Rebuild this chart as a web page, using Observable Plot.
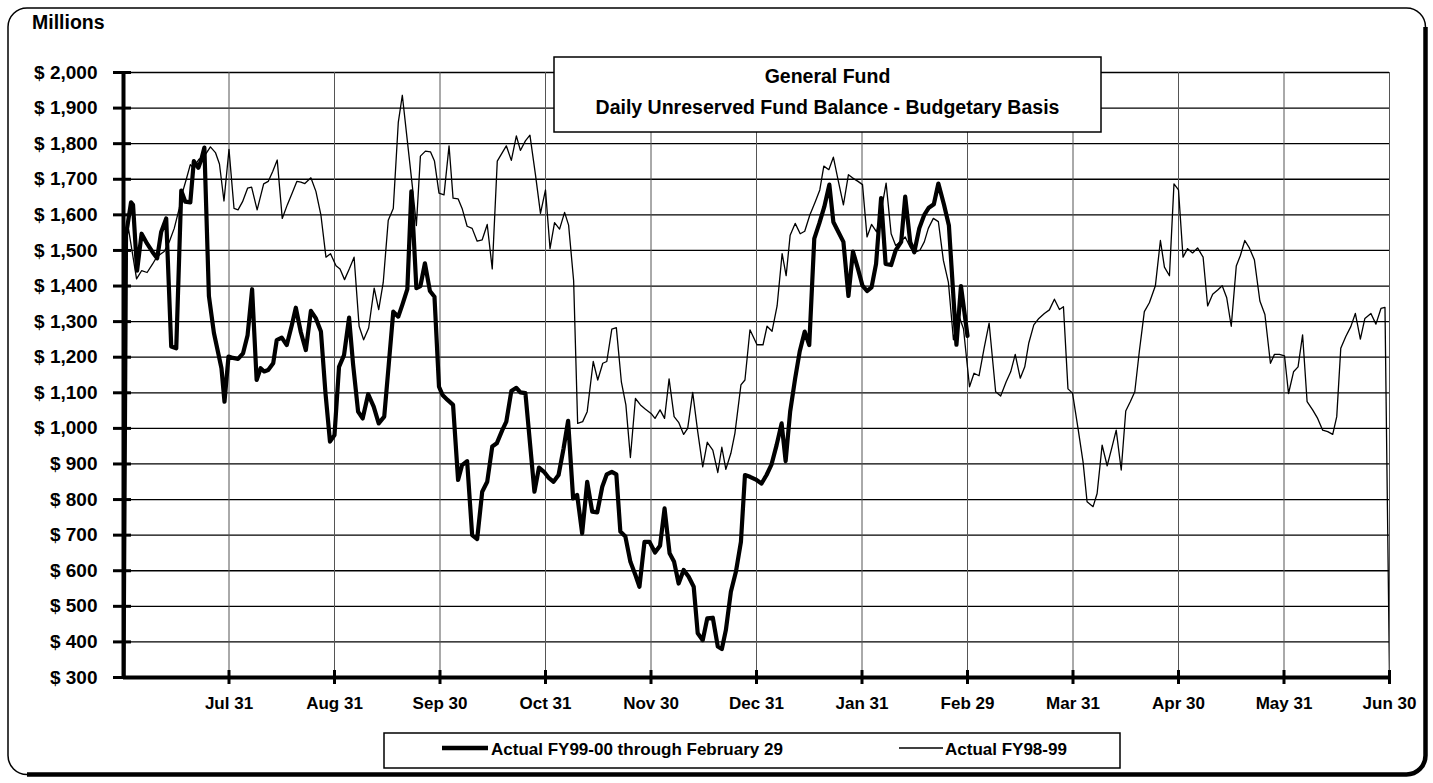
<!DOCTYPE html>
<html>
<head>
<meta charset="utf-8">
<script src="https://cdn.jsdelivr.net/npm/d3@7"></script>
<script src="https://cdn.jsdelivr.net/npm/@observablehq/plot@0.6"></script>
<style>
  body { margin: 0; background: #fff; }
  #wrap { position: relative; width: 1433px; height: 783px; overflow: hidden; }
  #overlay { position: absolute; left: 0; top: 0; pointer-events: none; }
  #chart svg { display: block; }
</style>
</head>
<body>
<div id="wrap">
  <div id="chart"></div>
  <svg id="overlay" width="1433" height="783" font-family="'Liberation Sans', Arial, sans-serif" font-weight="bold">
    <rect x="8" y="8" width="1417.5" height="766.5" rx="19" ry="19" fill="none" stroke="#000" stroke-width="1.5"/>
    <path d="M1425.5,27 L1425.5,755.5 A19,19 0 0 1 1406.5,774.5 L27,774.5" fill="none" stroke="#000" stroke-width="4.5"/>
    <text x="32" y="29" font-size="19.5">Millions</text>
    <rect x="554" y="57" width="547" height="75" fill="#fff" stroke="#000" stroke-width="1.5"/>
    <text x="827.5" y="83" font-size="19.5" text-anchor="middle">General Fund</text>
    <text x="827.5" y="114" font-size="19.5" text-anchor="middle">Daily Unreserved Fund Balance - Budgetary Basis</text>
    <rect x="384" y="733" width="736" height="35" fill="#fff" stroke="#000" stroke-width="1.5"/>
    <line x1="442" y1="748" x2="488" y2="748" stroke="#000" stroke-width="4.5"/>
    <text x="491" y="755" font-size="17">Actual FY99-00 through February 29</text>
    <line x1="899" y1="748" x2="943" y2="748" stroke="#000" stroke-width="1.3"/>
    <text x="945" y="755" font-size="17">Actual FY98-99</text>
  </svg>
</div>
<script>
// Month-end tick positions (business-day index) and their labels
const monthEnds = [21, 42, 63, 84, 105, 126, 147, 168, 189, 210, 231, 252];
const monthLabels = ["Jul 31","Aug 31","Sep 30","Oct 31","Nov 30","Dec 31","Jan 31","Feb 29","Mar 31","Apr 30","May 31","Jun 30"];
const yTicks = [300,400,500,600,700,800,900,1000,1100,1200,1300,1400,1500,1600,1700,1800,1900,2000];

// Actual FY98-99 daily balance, [business day, $ millions]
const fy9899 = [[0,1500],[1,1560],[2.6,1420],[3.6,1443],[4.7,1438],[5.8,1462],[6.6,1481],[7.4,1490],[8.1,1497],[9.1,1524],[10.1,1562],[11.1,1618],[11.8,1666],[12.5,1700],[13.3,1741],[13.9,1732],[15,1756],[16.1,1765],[17.3,1791],[18.3,1775],[19.1,1743],[20,1639],[21,1784],[22,1618],[22.8,1614],[23.7,1637],[24.7,1675],[25.5,1678],[26.6,1614],[27.9,1687],[28.8,1694],[29.7,1722],[30.6,1754],[31.6,1590],[32.6,1628],[33.6,1662],[34.5,1694],[35.3,1692],[36.1,1688],[37.3,1704],[38.3,1666],[39.3,1599],[40.3,1481],[41.2,1491],[42.3,1457],[43.1,1448],[44,1418],[45,1450],[45.9,1481],[46.9,1287],[47.8,1249],[48.8,1282],[49.9,1394],[50.8,1334],[51.7,1410],[52.7,1585],[53.7,1618],[54.7,1860],[55.5,1936],[56.5,1808],[57.5,1680],[58.3,1570],[59.1,1765],[60.1,1779],[61.1,1777],[61.9,1751],[62.8,1661],[63.8,1656],[64.8,1794],[65.6,1647],[66.6,1645],[67.4,1618],[68.4,1568],[69.4,1562],[70.4,1526],[71.4,1530],[72.4,1573],[73.4,1448],[74.4,1751],[75.4,1775],[76.2,1794],[77.2,1753],[78.2,1822],[79,1781],[80,1808],[80.9,1824],[82,1713],[83,1604],[84,1670],[84.9,1505],[85.8,1578],[86.8,1560],[87.8,1607],[88.6,1571],[89.6,1415],[90.4,1014],[91.4,1019],[92.3,1047],[93.5,1188],[94.4,1136],[95.4,1183],[96.2,1188],[97.2,1279],[98.1,1283],[99.1,1131],[100,1066],[100.9,918],[101.9,1084],[102.9,1066],[103.9,1054],[105,1042],[105.8,1028],[106.8,1052],[107.7,1028],[108.6,1139],[109.6,1033],[110.5,1017],[111.5,983],[112.3,1000],[113.3,1101],[114.3,991],[115.3,892],[116.2,961],[117.3,939],[118.3,876],[119.1,947],[119.9,885],[120.9,930],[121.7,986],[122.9,1122],[123.7,1136],[124.7,1277],[126.1,1235],[127.3,1235],[128.1,1287],[129.1,1273],[130.1,1344],[131.1,1491],[131.9,1429],[132.7,1543],[133.7,1576],[134.7,1547],[135.6,1554],[136.6,1599],[137.7,1637],[138.6,1670],[139.4,1737],[140.4,1727],[141.3,1762],[142.3,1694],[143.3,1628],[144.3,1713],[145.1,1704],[146.2,1694],[147.1,1685],[148,1538],[148.9,1573],[149.9,1552],[150.8,1609],[151.8,1689],[152.8,1547],[153.7,1514],[154.6,1524],[155.6,1538],[156.6,1509],[157.5,1495],[158.5,1500],[159.4,1524],[160.2,1562],[161.2,1590],[162.2,1581],[163.2,1472],[164.2,1410],[165.2,1249],[166.2,1320],[167.2,1280],[168.4,1117],[169.3,1155],[170.3,1148],[171.3,1225],[172.3,1296],[173.6,1103],[174.6,1091],[175.7,1131],[176.6,1159],[177.5,1208],[178.5,1141],[179.4,1173],[180.2,1240],[181.2,1291],[182.2,1309],[183.3,1323],[184.3,1333],[185.3,1363],[186.3,1334],[187.1,1342],[188,1111],[188.9,1099],[190,1000],[191,906],[191.8,794],[193,780],[193.8,817],[194.8,953],[195.8,895],[196.7,944],[197.6,995],[198.6,883],[199.5,1049],[200.4,1075],[201.3,1103],[202.2,1216],[203.2,1328],[204.2,1353],[205.4,1401],[206.4,1528],[207.2,1453],[208.2,1429],[209.1,1687],[210,1670],[210.9,1481],[211.8,1505],[212.8,1493],[213.8,1507],[214.9,1481],[215.8,1344],[216.8,1377],[217.8,1389],[218.7,1401],[219.6,1367],[220.5,1287],[221.5,1456],[222.3,1485],[223.2,1528],[224.1,1507],[225.1,1474],[226.2,1358],[227.2,1320],[228.3,1183],[229.1,1208],[230.1,1208],[231.1,1204],[231.9,1098],[232.9,1159],[233.8,1173],[234.7,1263],[235.6,1075],[236.7,1052],[237.7,1028],[238.7,995],[239.7,991],[240.7,983],[241.5,1033],[242.3,1225],[243.3,1258],[244.3,1286],[245.2,1323],[246.2,1251],[247.1,1309],[248.3,1323],[249.3,1293],[250.3,1337],[251.1,1340],[252,300]];

// Actual FY99-00 daily balance through February 29, [business day, $ millions]
const fy9900 = [[0,300],[0.5,1543],[1.5,1635],[1.9,1628],[2.7,1443],[3.6,1547],[4.7,1519],[5.8,1495],[6.7,1478],[7.5,1552],[8.5,1590],[9.5,1230],[10.5,1225],[11.5,1668],[12.3,1637],[13.3,1635],[14,1751],[14.9,1732],[15.5,1756],[16.1,1789],[17,1372],[18,1268],[19.5,1169],[20.1,1075],[20.9,1202],[21.8,1198],[22.8,1195],[23.8,1211],[24.7,1262],[25.6,1391],[26.5,1136],[27.3,1169],[28,1160],[28.8,1164],[29.8,1183],[30.5,1248],[31.5,1255],[32.5,1234],[33.5,1290],[34.3,1339],[35.3,1270],[36.3,1220],[37.3,1330],[38.3,1309],[39.3,1272],[40.2,1100],[41.1,963],[42,981],[42.9,1173],[43.9,1206],[44.9,1311],[45.7,1180],[46.7,1047],[47.6,1028],[48.7,1096],[49.8,1061],[50.8,1014],[51.9,1033],[52.8,1180],[53.7,1328],[54.7,1314],[55.5,1347],[56.5,1391],[57.3,1666],[58.3,1394],[59.1,1400],[60,1464],[61,1386],[61.9,1370],[62.8,1117],[63.5,1094],[64.5,1080],[65.6,1066],[66.6,855],[67.4,897],[68.4,908],[69.4,700],[70.4,689],[71.4,822],[72.4,850],[73.4,949],[74.3,958],[75.4,995],[76.2,1019],[77.2,1105],[78.2,1114],[79,1101],[80,1099],[81.8,822],[82.7,890],[83.7,878],[84.7,860],[85.6,850],[86.6,869],[87.6,944],[88.5,1021],[89.5,803],[90.3,813],[91.3,705],[92.3,850],[93.3,766],[94.3,764],[95.3,836],[96.2,871],[97.2,878],[98.1,871],[98.9,710],[99.9,696],[100.9,625],[101.9,588],[102.7,555],[103.7,681],[104.7,681],[105.8,651],[106.8,670],[107.7,775],[108.7,649],[109.6,625],[110.5,564],[111.5,602],[112.5,583],[113.5,555],[114.3,424],[115.3,405],[116.2,466],[117.3,468],[118.3,387],[119.1,380],[119.9,433],[120.9,541],[121.9,597],[122.9,681],[123.7,869],[124.7,864],[126,855],[127,845],[128,869],[129,899],[130,953],[131,1014],[131.8,908],[132.7,1047],[133.7,1141],[134.6,1216],[135.6,1272],[136.5,1234],[137.5,1533],[138.5,1576],[139.5,1623],[140.5,1685],[141.3,1580],[142.3,1552],[143.3,1524],[144.3,1372],[145.2,1497],[146.2,1448],[147.1,1401],[148,1386],[148.9,1396],[149.8,1462],[150.8,1647],[151.7,1462],[152.8,1459],[153.7,1500],[154.8,1524],[155.6,1651],[156.6,1524],[157.4,1495],[158.4,1562],[159.4,1600],[160.3,1620],[161.3,1630],[162.2,1688],[163.3,1630],[164.3,1570],[165.8,1235],[166.7,1400],[168,1260]];

const rows98 = fy9899.map(([day, value]) => ({day, value}));
const rows99 = fy9900.map(([day, value]) => ({day, value}));
const labelOf = d => monthLabels[monthEnds.indexOf(d)];

const chart = Plot.plot({
  width: 1433,
  height: 783,
  marginLeft: 123,
  marginRight: 44,
  marginTop: 72,
  marginBottom: 106,
  style: {
    fontFamily: "'Liberation Sans', Arial, sans-serif",
    fontWeight: "bold",
    fontSize: "17px",
    color: "#000",
    background: "transparent",
    overflow: "visible"
  },
  x: {domain: [0, 252]},
  y: {domain: [300, 2000]},
  marks: [
    Plot.gridY(yTicks, {stroke: "#000", strokeOpacity: 1, strokeWidth: 1.3}),
    Plot.gridX(monthEnds, {stroke: "#555", strokeOpacity: 1, strokeWidth: 1}),
    Plot.line(rows98, {x: "day", y: "value", stroke: "#000", strokeWidth: 1.3, clip: true}),
    Plot.line(rows99, {x: "day", y: "value", stroke: "#000", strokeWidth: 4.2, strokeLinejoin: "round", clip: true}),
    Plot.ruleX([0], {stroke: "#000", strokeWidth: 4}),
    Plot.ruleY([300], {stroke: "#000", strokeWidth: 4}),
    Plot.axisY(yTicks, {tickSize: 18, dx: 8, strokeWidth: 3, tickFormat: () => "", label: null}),
    Plot.axisY(yTicks, {tickSize: 0, tickPadding: 26, fontSize: 19, tickFormat: d => "$ " + d3.format(",")(d), label: null}),
    Plot.axisX(monthEnds, {tickSize: 14, dy: -7, strokeWidth: 3, tickFormat: () => "", label: null}),
    Plot.axisX(monthEnds, {tickSize: 0, tickPadding: 19, fontSize: 17, tickFormat: labelOf, label: null})
  ]
});
document.getElementById("chart").appendChild(chart);
</script>
</body>
</html>
